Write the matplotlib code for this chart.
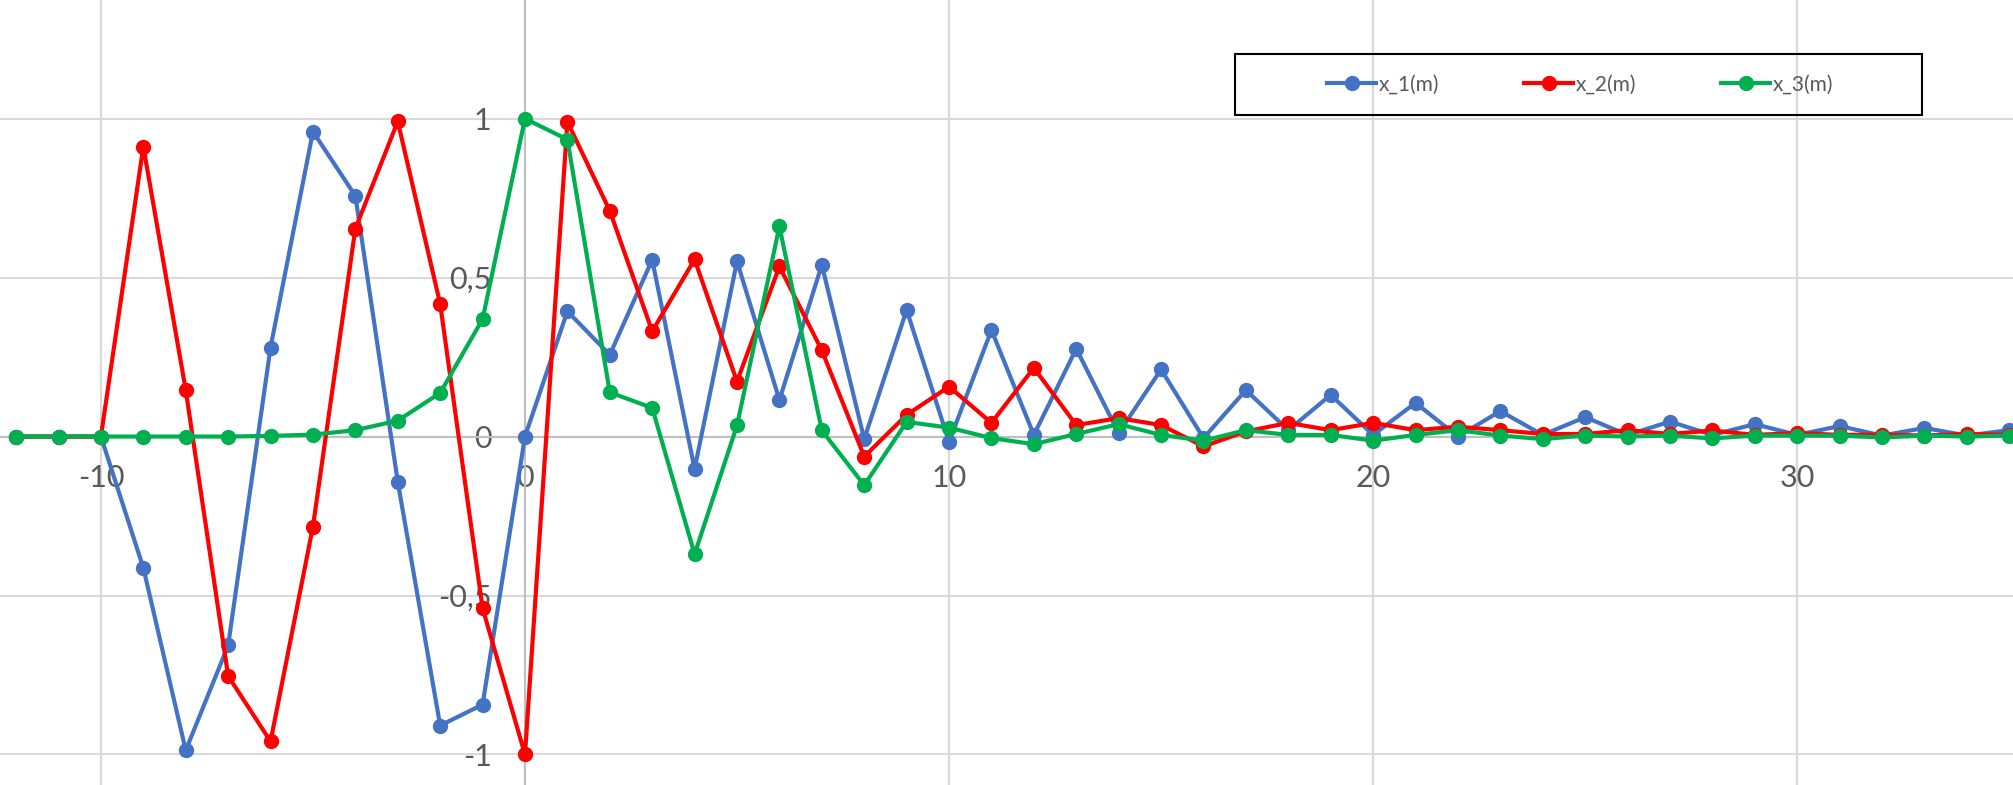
import numpy as np
import matplotlib.pyplot as plt
from matplotlib.patches import Rectangle
from matplotlib.ticker import FuncFormatter

plt.rcParams['font.family'] = ['Lato', 'DejaVu Sans']

# abscisses (entiers de -12 a 35)
x = list(range(-12, 36))

# x_1(m)
x1 = [0, 0, 0, -0.413, -0.987, -0.657, 0.280, 0.959, 0.757, -0.142, -0.909, -0.843,
      0, 0.394, 0.257, 0.556, -0.102, 0.551, 0.115, 0.540, -0.008, 0.398, -0.017, 0.335,
      0.005, 0.276, 0.011, 0.211, -0.005, 0.146, 0.02, 0.131, 0.005, 0.106, 0.0, 0.080,
      0.005, 0.061, 0.005, 0.047, 0.005, 0.039, 0.005, 0.033, 0.003, 0.027, 0.003, 0.020]

# x_2(m)
x2 = [0, 0, 0, 0.912, 0.146, -0.753, -0.959, -0.283, 0.654, 0.991, 0.417, -0.540,
      -1.0, 0.99, 0.710, 0.331, 0.557, 0.173, 0.535, 0.271, -0.063, 0.068, 0.157, 0.043,
      0.216, 0.036, 0.058, 0.036, -0.031, 0.016, 0.043, 0.02, 0.043, 0.02, 0.031, 0.02,
      0.008, 0.008, 0.02, 0.008, 0.019, 0.005, 0.011, 0.005, 0.006, 0.003, 0.008, 0.005]

# x_3(m)
x3 = [0, 0, 0, 0, 0, 0, 0.002, 0.006, 0.02, 0.05, 0.137, 0.369,
      1.0, 0.934, 0.139, 0.09, -0.370, 0.035, 0.661, 0.019, -0.153, 0.046, 0.028, -0.005,
      -0.024, 0.008, 0.039, 0.005, -0.013, 0.02, 0.005, 0.005, -0.013, 0.005, 0.02, 0.003,
      -0.008, 0.003, 0.0, 0.003, -0.006, 0.003, 0.003, 0.003, -0.003, 0.003, 0.0, 0.003]

series = [(x1, '#4472C4', 'x_1(m)'), (x2, '#FF0000', 'x_2(m)'), (x3, '#00B050', 'x_3(m)')]

fig = plt.figure(figsize=(20.13, 7.85), dpi=100)
ax = fig.add_axes([0, 0, 1, 1])

for vals, col, lab in series:
    ax.plot(x, vals, color=col, lw=3, marker='o', ms=10, label=lab, zorder=3)

ax.set_xlim(-12.38, 35.09)
ax.set_ylim(-1.096, 1.373)
ax.set_xticks([-10, 0, 10, 20, 30])
ax.set_yticks([-1, -0.5, 0, 0.5, 1])

fmt = FuncFormatter(lambda v, p: f"{v:g}".replace('.', ','))
ax.xaxis.set_major_formatter(fmt)
ax.yaxis.set_major_formatter(fmt)

ax.grid(color='#d9d9d9', lw=1.5)
ax.set_axisbelow(True)

# axes croisees a l'origine
ax.spines['left'].set_position(('data', 0))
ax.spines['bottom'].set_position(('data', 0))
ax.spines['right'].set_visible(False)
ax.spines['top'].set_visible(False)
for s in ['left', 'bottom']:
    ax.spines[s].set_color('#bfbfbf')
    ax.spines[s].set_linewidth(1.5)
    ax.spines[s].set_zorder(1)

ax.tick_params(axis='x', length=0, pad=20, labelsize=22, labelcolor='#595959')
ax.tick_params(axis='y', length=0, pad=24, labelsize=22, labelcolor='#595959')

# cadre de la legende
ax.add_patch(Rectangle((0.6135, 0.8541), 0.3413, 0.0771, transform=ax.transAxes,
                       fill=False, ec='black', lw=1.5, zorder=5))
ax.legend(loc='center', bbox_to_anchor=(0.785, 0.8927), ncol=3, frameon=False,
          fontsize=15, handlelength=2.35, handletextpad=0.1, columnspacing=4.1,
          labelcolor='#595959')

fig.savefig("out.png")
